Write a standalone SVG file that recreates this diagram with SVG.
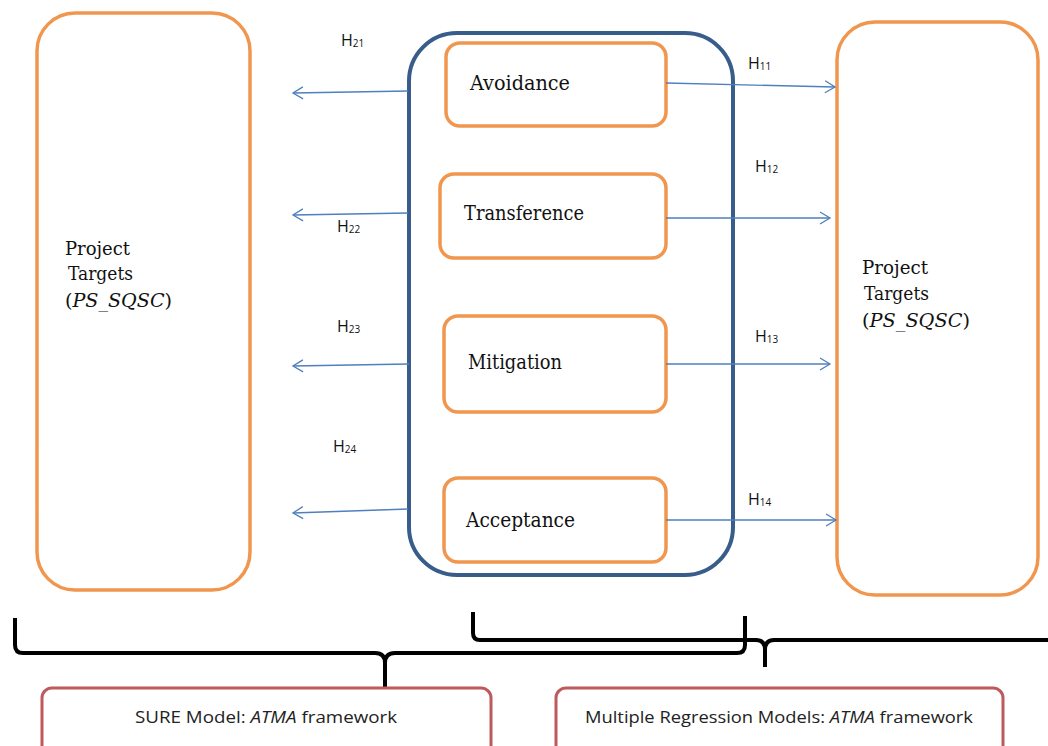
<svg xmlns="http://www.w3.org/2000/svg" width="1048" height="746" viewBox="0 0 1048 746">
<style>
.orange{fill:#ffffff;stroke:#F0964E;stroke-width:3.5}
.blue{fill:none;stroke:#385D8A;stroke-width:4}
.red{fill:#ffffff;stroke:#BE5A5C;stroke-width:3}
.conn{stroke:#4F7FBD;stroke-width:1.3;fill:none}
.brace{stroke:#000;stroke-width:4;fill:none;stroke-linejoin:round}
.serif{font-family:"DejaVu Serif","Liberation Serif",serif;fill:#111}
.node{font-size:21px}
.tgt{font-size:19px}
.h{font-family:"Open Sans","Liberation Sans",sans-serif;font-size:16px;fill:#111}
.h .s{font-size:10px}
.lab{font-family:"Open Sans","Liberation Sans",sans-serif;font-size:17px;fill:#222}
</style>
<defs>
<marker id="arr" markerWidth="14" markerHeight="14" refX="11" refY="7" orient="auto" markerUnits="userSpaceOnUse">
<path d="M1,1 L11,7 L1,13" fill="none" stroke="#4F7FBD" stroke-width="1.3"/>
</marker>
</defs>
<rect width="1048" height="746" fill="#ffffff"/>

<g id="left-targets">
<rect class="orange" x="37" y="13" width="213" height="577" rx="38"/>
<text class="serif tgt" x="65" y="255" textLength="65" lengthAdjust="spacingAndGlyphs">Project</text>
<text class="serif tgt" x="68" y="280" textLength="65" lengthAdjust="spacingAndGlyphs">Targets</text>
<text class="serif tgt" x="65" y="307" textLength="107" lengthAdjust="spacingAndGlyphs">(<tspan font-style="italic">PS_SQSC</tspan>)</text>
</g>

<g id="right-targets">
<rect class="orange" x="837" y="22" width="201" height="573" rx="38"/>
<text class="serif tgt" x="862" y="274" textLength="66" lengthAdjust="spacingAndGlyphs">Project</text>
<text class="serif tgt" x="864" y="300" textLength="65" lengthAdjust="spacingAndGlyphs">Targets</text>
<text class="serif tgt" x="862" y="327" textLength="108" lengthAdjust="spacingAndGlyphs">(<tspan font-style="italic">PS_SQSC</tspan>)</text>
</g>

<g id="strategies">
<rect class="blue" x="409" y="33" width="324" height="542" rx="48"/>
</g>

<g id="avoidance">
<rect class="orange" x="446" y="43" width="220" height="83" rx="14"/>
<text class="serif node" x="470" y="90" textLength="100" lengthAdjust="spacingAndGlyphs">Avoidance</text>
</g>
<g id="transference">
<rect class="orange" x="440" y="174" width="226" height="84" rx="14"/>
<text class="serif node" x="464" y="220" textLength="120" lengthAdjust="spacingAndGlyphs">Transference</text>
</g>
<g id="mitigation">
<rect class="orange" x="444" y="316" width="222" height="96" rx="14"/>
<text class="serif node" x="468" y="369" textLength="94" lengthAdjust="spacingAndGlyphs">Mitigation</text>
</g>
<g id="acceptance">
<rect class="orange" x="444" y="478" width="222" height="84" rx="14"/>
<text class="serif node" x="466" y="527" textLength="109" lengthAdjust="spacingAndGlyphs">Acceptance</text>
</g>

<g id="connectors">
<line class="conn" x1="666" y1="83" x2="835" y2="87" marker-end="url(#arr)"/>
<line class="conn" x1="666" y1="218" x2="830" y2="218" marker-end="url(#arr)"/>
<line class="conn" x1="666" y1="364" x2="830" y2="364" marker-end="url(#arr)"/>
<line class="conn" x1="666" y1="520" x2="836" y2="520" marker-end="url(#arr)"/>
<line class="conn" x1="408" y1="91" x2="293" y2="93" marker-end="url(#arr)"/>
<line class="conn" x1="408" y1="213" x2="293" y2="215" marker-end="url(#arr)"/>
<line class="conn" x1="409" y1="364" x2="293" y2="366" marker-end="url(#arr)"/>
<line class="conn" x1="408" y1="509" x2="293" y2="513" marker-end="url(#arr)"/>
</g>

<g id="hypothesis-labels">
<text class="h" x="341" y="46">H<tspan class="s" dy="1">21</tspan></text>
<text class="h" x="748" y="69">H<tspan class="s" dy="1">11</tspan></text>
<text class="h" x="755" y="172">H<tspan class="s" dy="1">12</tspan></text>
<text class="h" x="337" y="232">H<tspan class="s" dy="1">22</tspan></text>
<text class="h" x="337" y="332">H<tspan class="s" dy="1">23</tspan></text>
<text class="h" x="755" y="342">H<tspan class="s" dy="1">13</tspan></text>
<text class="h" x="333" y="452">H<tspan class="s" dy="1">24</tspan></text>
<text class="h" x="748" y="505">H<tspan class="s" dy="1">14</tspan></text>
</g>

<g id="braces">
<path class="brace" d="M15,618 L15,645 Q15,653 23,653 L375,653 Q385,653 385,663 L385,687 M385,663 Q385,653 395,653 L737,653 Q745,653 745,645 L745,616"/>
<path class="brace" d="M473,612 L473,633 Q473,640 480,640 L756,640 Q765,640 765,650 L765,667 M765,650 Q765,640 774,640 L1050,640"/>
</g>

<g id="sure-model">
<rect class="red" x="42" y="688" width="449" height="70" rx="10"/>
<text class="lab" x="135" y="723" textLength="262" lengthAdjust="spacingAndGlyphs">SURE Model: <tspan font-style="italic">ATMA</tspan> framework</text>
</g>
<g id="multiple-regression">
<rect class="red" x="556" y="688" width="447" height="70" rx="10"/>
<text class="lab" x="585" y="723" textLength="388" lengthAdjust="spacingAndGlyphs">Multiple Regression Models: <tspan font-style="italic">ATMA</tspan> framework</text>
</g>
</svg>
